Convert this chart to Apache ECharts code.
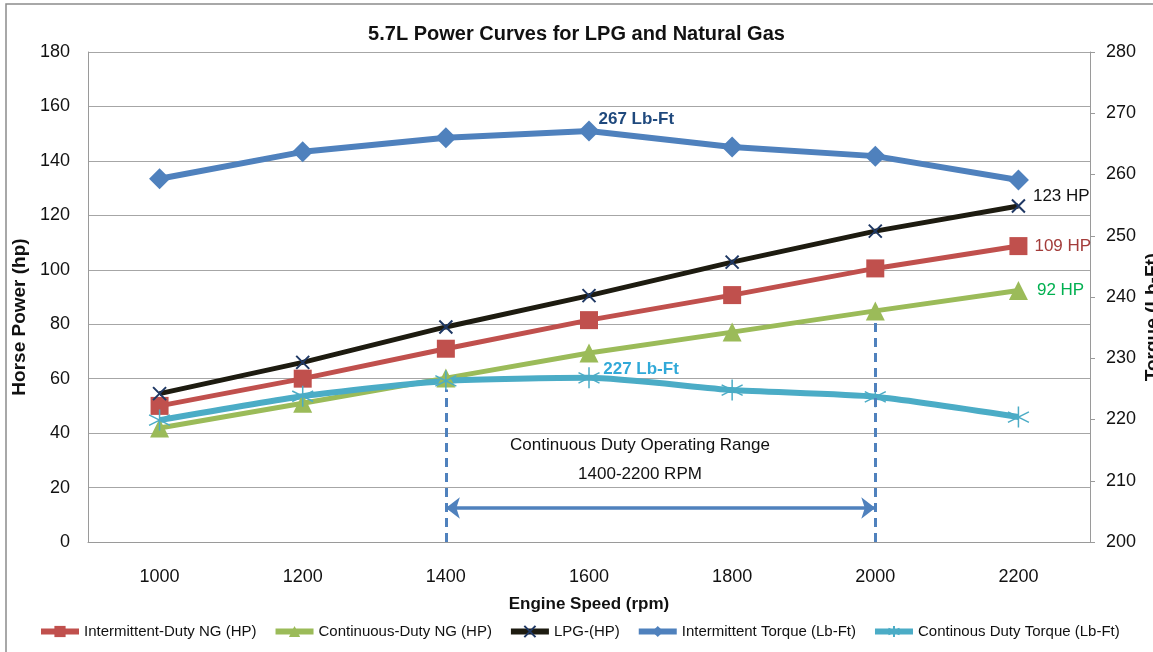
<!DOCTYPE html>
<html>
<head>
<meta charset="utf-8">
<script src="https://cdn.jsdelivr.net/npm/echarts@6/dist/echarts.min.js"></script>
<style>
  html, body { margin: 0; padding: 0; background: #fff; }
  #chart { width: 1153px; height: 652px; }
</style>
</head>
<body>
<div id="chart"></div>
<script>
const categories = ['1000', '1200', '1400', '1600', '1800', '2000', '2200'];
const intermittentNG = [50, 60, 71, 81.5, 90.7, 100.5, 108.7];
const continuousNG = [41.9, 51, 60.2, 69.4, 77.1, 84.9, 92.4];
const lpg = [54.5, 66, 79, 90.5, 102.8, 114.2, 123.4];
const intermittentTorque = [259.3, 263.7, 266, 267.1, 264.5, 263, 259.1];
const continuousTorque = [219.9, 223.8, 226.3, 226.8, 224.8, 223.7, 220.4];
const hpTicks = { min: 0, max: 180, interval: 20 };
const torqueTicks = { min: 200, max: 280, interval: 10 };

const FONT = "'Liberation Sans', Arial, sans-serif";
const starPath = 'path://M0,-10L0,10M-8.7,-5L8.7,5M-8.7,5L8.7,-5';
const crossPath = 'path://M-8,-8L8,8M-8,8L8,-8';

// put a value label on one point of a series
function withLabel(values, idx, label) {
  return values.map(function (v, i) {
    return i === idx ? { value: v, label: Object.assign({ show: true, fontFamily: FONT, fontSize: 17 }, label) } : v;
  });
}

const chart = echarts.init(document.getElementById('chart'));

const option = {
  animation: false,
  title: {
    text: '5.7L Power Curves for LPG and Natural Gas',
    left: 'center',
    top: 19,
    textStyle: { fontFamily: FONT, fontSize: 20, fontWeight: 'bold', color: '#111' }
  },
  legend: {
    bottom: 8,
    left: 33,
    width: 1118,
    itemGap: 16,
    itemWidth: 38,
    itemHeight: 14,
    lineStyle: { width: 6 },
    textStyle: { fontFamily: FONT, fontSize: 15, color: '#111' },
    data: ['Intermittent-Duty NG (HP)', 'Continuous-Duty NG (HP)', 'LPG-(HP)', 'Intermittent Torque (Lb-Ft)', 'Continous Duty Torque (Lb-Ft)']
  },
  grid: { left: 88, right: 63, top: 52, bottom: 110, outerBoundsMode: 'none', containLabel: false },
  graphic: [
    { type: 'rect', shape: { x: 6, y: 4, width: 1200, height: 700 }, style: { fill: 'none', stroke: '#8c8c8c', lineWidth: 1.5 }, z: -1 },
    { type: 'text', style: { text: 'Continuous Duty Operating Range', font: '17px ' + FONT, fill: '#111', textAlign: 'center' }, x: 640, y: 437 },
    { type: 'text', style: { text: '1400-2200 RPM', font: '17px ' + FONT, fill: '#111', textAlign: 'center' }, x: 640, y: 466 }
  ],
  xAxis: {
    type: 'category',
    data: categories,
    boundaryGap: true,
    name: 'Engine Speed (rpm)',
    nameLocation: 'middle',
    nameGap: 54,
    nameTextStyle: { fontFamily: FONT, fontSize: 17, fontWeight: 'bold', color: '#111' },
    axisLine: { lineStyle: { color: '#9a9a9a' } },
    axisTick: { show: false },
    axisLabel: { margin: 26, fontFamily: FONT, fontSize: 18, color: '#111' }
  },
  yAxis: [
    {
      type: 'value',
      min: hpTicks.min, max: hpTicks.max, interval: hpTicks.interval,
      name: 'Horse Power (hp)',
      nameLocation: 'middle',
      nameGap: 57,
      nameTextStyle: { fontFamily: FONT, fontSize: 19, fontWeight: 'bold', color: '#111', padding: [0, 40, 0, 0] },
      axisLine: { show: true, lineStyle: { color: '#9a9a9a' } },
      axisTick: { show: false },
      axisLabel: { margin: 18, fontFamily: FONT, fontSize: 18, color: '#111' },
      splitLine: { lineStyle: { color: '#a6a6a6', width: 1 } }
    },
    {
      type: 'value',
      position: 'right',
      min: torqueTicks.min, max: torqueTicks.max, interval: torqueTicks.interval,
      name: 'Torque (Lb-Ft)',
      nameLocation: 'middle',
      nameRotate: 90,
      nameGap: 53,
      nameMoveOverlap: false,
      nameTextStyle: { fontFamily: FONT, fontSize: 19, fontWeight: 'bold', color: '#111', padding: [0, 40, 0, 0] },
      axisLine: { show: true, lineStyle: { color: '#9a9a9a' } },
      axisTick: { show: true, length: 5, lineStyle: { color: '#9a9a9a' } },
      axisLabel: { margin: 16, fontFamily: FONT, fontSize: 18, color: '#111' },
      splitLine: { show: false }
    }
  ],
  series: [
    {
      name: 'Intermittent-Duty NG (HP)',
      type: 'line',
      yAxisIndex: 0,
      data: withLabel(intermittentNG, 6, { position: 'right', offset: [2, 0], color: '#a33c3a', formatter: function (p) { return Math.round(p.value) + ' HP'; } }),
      symbol: 'rect',
      symbolSize: 18,
      lineStyle: { color: '#c0504d', width: 5 },
      itemStyle: { color: '#c0504d', borderWidth: 0 }
    },
    {
      name: 'Continuous-Duty NG (HP)',
      type: 'line',
      yAxisIndex: 0,
      data: withLabel(continuousNG, 6, { position: 'right', offset: [4, 0], color: '#00b050', formatter: function (p) { return Math.round(p.value) + ' HP'; } }),
      symbol: 'triangle',
      symbolSize: 19,
      lineStyle: { color: '#9bbb59', width: 5 },
      itemStyle: { color: '#9bbb59', borderWidth: 0 },
      markLine: {
        silent: true,
        symbol: 'none',
        label: { show: false },
        lineStyle: { color: '#4f81bd', type: [9, 6], width: 3 },
        data: [
          [{ coord: ['1400', 0] }, { coord: ['1400', 56] }],
          [{ coord: ['2000', 0] }, { coord: ['2000', 81] }]
        ]
      }
    },
    {
      name: 'LPG-(HP)',
      type: 'line',
      yAxisIndex: 0,
      data: withLabel(lpg, 6, { position: 'right', offset: [2, -10], color: '#111', formatter: function (p) { return Math.round(p.value) + ' HP'; } }),
      symbol: crossPath,
      symbolSize: 13,
      lineStyle: { color: '#1d1b10', width: 5 },
      itemStyle: { color: '#1f3864', borderColor: '#1f3864', borderWidth: 2 },
      markLine: {
        silent: true,
        symbol: ['arrow', 'arrow'],
        symbolSize: [16, 14],
        label: { show: false },
        lineStyle: { color: '#4f81bd', type: 'solid', width: 3.5 },
        data: [
          [{ coord: ['1400', 12.5] }, { coord: ['2000', 12.5] }]
        ]
      }
    },
    {
      name: 'Intermittent Torque (Lb-Ft)',
      type: 'line',
      yAxisIndex: 1,
      data: withLabel(intermittentTorque, 3, { position: 'right', offset: [-6, -12], color: '#1f497d', fontWeight: 'bold', formatter: function (p) { return Math.round(p.value) + ' Lb-Ft'; } }),
      symbol: 'diamond',
      symbolSize: 21,
      lineStyle: { color: '#4f81bd', width: 6 },
      itemStyle: { color: '#4f81bd', borderWidth: 0 }
    },
    {
      name: 'Continous Duty Torque (Lb-Ft)',
      type: 'line',
      yAxisIndex: 1,
      smooth: 0.2,
      data: withLabel(continuousTorque, 3, { position: 'right', offset: [-2, -9], color: '#31a9d8', fontWeight: 'bold', formatter: function (p) { return Math.round(p.value) + ' Lb-Ft'; } }),
      symbol: starPath,
      symbolSize: 21,
      lineStyle: { color: '#4bacc6', width: 6 },
      itemStyle: { color: '#4bacc6', borderColor: '#4bacc6', borderWidth: 1.5 }
    }
  ]
};

chart.setOption(option);
</script>
</body>
</html>
